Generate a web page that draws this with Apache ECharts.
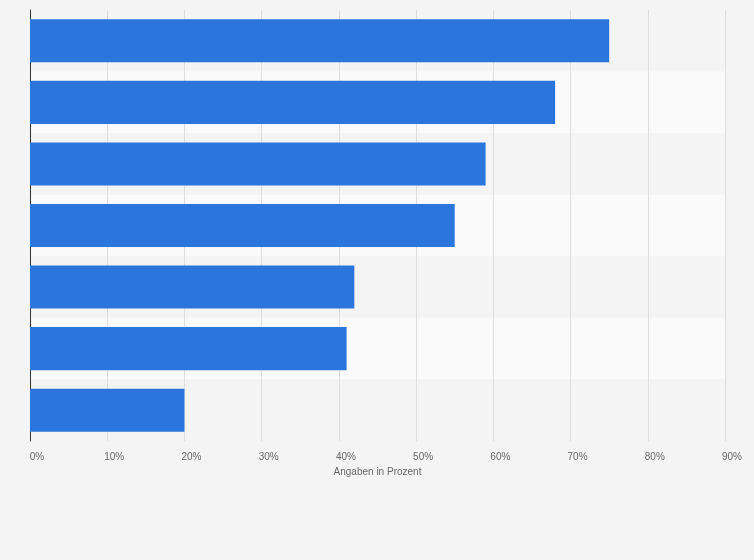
<!DOCTYPE html>
<html><head><meta charset="utf-8">
<script src="https://cdn.jsdelivr.net/npm/echarts@6/dist/echarts.min.js"></script>
<style>html,body{margin:0;padding:0;background:#f4f4f4}#c{width:754px;height:560px}</style>
</head><body><div id="c"></div>
<script>
const categories = ['A','B','C','D','E','F','G'];
const values = [75, 68, 59, 55, 42, 41, 20];
const chart = echarts.init(document.getElementById('c'));
chart.setOption({
  backgroundColor: '#f4f4f4',
  animation: false,
  grid: {left: 30, right: 29, top: 10, bottom: 119},
  xAxis: {
    type: 'value', min: 0, max: 90, interval: 10,
    name: 'Angaben in Prozent', nameLocation: 'middle', nameGap: 26,
    nameTextStyle: {color: '#666', fontSize: 10, fontFamily: 'Arial, Liberation Sans'},
    axisLabel: {formatter: '{value}%', color: '#666', fontSize: 10, margin: 11, padding: [0,0,0,14], fontFamily: 'Arial, Liberation Sans'},
    axisLine: {show: false}, axisTick: {show: false},
    splitLine: {lineStyle: {color: '#dddddd'}}
  },
  yAxis: {
    type: 'category', data: categories, inverse: true,
    axisLabel: {show: false}, axisTick: {show: false},
    axisLine: {lineStyle: {color: '#333', width: 1}},
    splitArea: {show: true, areaStyle: {color: ['#f4f4f4', '#fafafa']}}
  },
  series: [{
    type: 'bar', data: values, barCategoryGap: '30%',
    itemStyle: {color: '#2a76dd'}
  }]
});
</script></body></html>
